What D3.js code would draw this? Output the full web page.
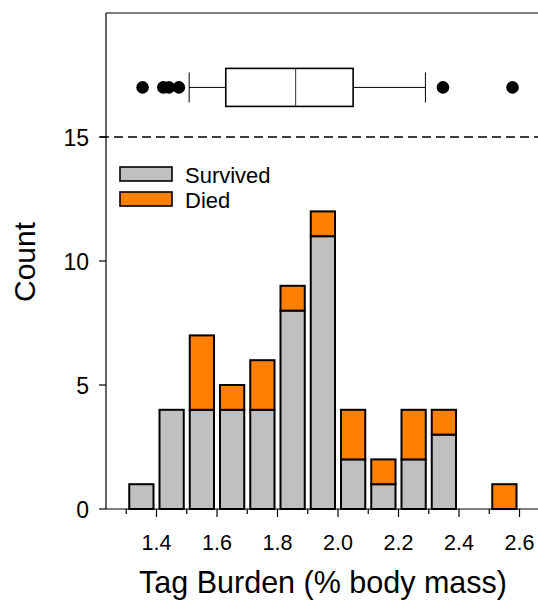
<!DOCTYPE html>
<html>
<head>
<meta charset="utf-8">
<script src="https://cdn.jsdelivr.net/npm/d3@7"></script>
<style>
  body { margin: 0; background: #fff; }
  svg { display: block; font-family: "Liberation Sans", Arial, sans-serif; }
</style>
</head>
<body>
<div id="chart"></div>
<script>
// ____ DATA ____ //
const binStarts = [1.3, 1.4, 1.5, 1.6, 1.7, 1.8, 1.9, 2.0, 2.1, 2.2, 2.3, 2.4, 2.5]
const survived  = [1, 4, 4, 4, 4, 8, 11, 2, 1, 2, 3, 0, 0]
const died      = [0, 0, 3, 1, 2, 1, 1, 2, 1, 2, 1, 0, 1]
const binWidth = 0.1

// box plot summary (% body mass)
const boxStats = { lo: 1.508, q1: 1.629, median: 1.86, q3: 2.05, hi: 2.289 }
const outliers = [1.354, 1.4225, 1.441, 1.474, 2.347, 2.577]
const boxLevel = 17
const cutLine = 15

const xTicks = [1.4, 1.6, 1.8, 2.0, 2.2, 2.4, 2.6]
const xMinorTicks = [1.3, 1.5, 1.7, 1.9, 2.1, 2.3, 2.5]
const yTicks = [0, 5, 10, 15]

const legendItems = [
    { label: "Survived", color: "#c0c0c0" },
    { label: "Died", color: "#ff8000" }
]

// ____ SETUP ____ //
const W = 538, H = 605
const svg = d3.select("#chart").append("svg")
    .attr("width", W)
    .attr("height", H)

const x = d3.scaleLinear()
    .domain([1.4 - 50.5 / 302.5, 1.4 + 381.5 / 302.5])
    .range([106, 538])

const y = d3.scaleLinear()
    .domain([0, 20])
    .range([509, 13])

// ____ BARS ____ //
const bars = binStarts.map((b, i) => ({ x0: b, x1: b + binWidth, s: survived[i], d: died[i] }))

const barG = svg.append("g").attr("class", "bars")
    .attr("stroke", "#000")
    .attr("stroke-width", 2)

barG.selectAll("rect.surv")
    .data(bars.filter(d => d.s > 0))
    .join("rect")
    .attr("class", "surv")
    .attr("x", d => x(d.x0) + 3)
    .attr("width", d => x(d.x1) - x(d.x0) - 6)
    .attr("y", d => y(d.s))
    .attr("height", d => y(0) - y(d.s))
    .attr("fill", legendItems[0].color)

barG.selectAll("rect.died")
    .data(bars.filter(d => d.d > 0))
    .join("rect")
    .attr("class", "died")
    .attr("x", d => x(d.x0) + 3)
    .attr("width", d => x(d.x1) - x(d.x0) - 6)
    .attr("y", d => y(d.s + d.d))
    .attr("height", d => y(d.s) - y(d.s + d.d))
    .attr("fill", legendItems[1].color)

// ____ DASHED CUT LINE ____ //
svg.append("line")
    .attr("x1", 100).attr("x2", W)
    .attr("y1", y(cutLine)).attr("y2", y(cutLine))
    .attr("stroke", "#000")
    .attr("stroke-width", 1.3)
    .attr("stroke-dasharray", "9,5")

// ____ BOX PLOT ____ //
const boxG = svg.append("g").attr("class", "box")
const yc = y(boxLevel)
const halfBox = 19, halfCap = 15

boxG.append("line")
    .attr("x1", x(boxStats.lo)).attr("x2", x(boxStats.q1))
    .attr("y1", yc).attr("y2", yc)
    .attr("stroke", "#000").attr("stroke-width", 1)
boxG.append("line")
    .attr("x1", x(boxStats.q3)).attr("x2", x(boxStats.hi))
    .attr("y1", yc).attr("y2", yc)
    .attr("stroke", "#000").attr("stroke-width", 1)
boxG.selectAll("line.cap")
    .data([boxStats.lo, boxStats.hi])
    .join("line")
    .attr("class", "cap")
    .attr("x1", d => x(d)).attr("x2", d => x(d))
    .attr("y1", yc - halfCap).attr("y2", yc + halfCap)
    .attr("stroke", "#000").attr("stroke-width", 1)
boxG.append("rect")
    .attr("x", x(boxStats.q1))
    .attr("width", x(boxStats.q3) - x(boxStats.q1))
    .attr("y", yc - halfBox)
    .attr("height", 2 * halfBox)
    .attr("fill", "#fff")
    .attr("stroke", "#000").attr("stroke-width", 1.6)
boxG.append("line")
    .attr("x1", x(boxStats.median)).attr("x2", x(boxStats.median))
    .attr("y1", yc - halfBox).attr("y2", yc + halfBox)
    .attr("stroke", "#333").attr("stroke-width", 1)
boxG.selectAll("circle")
    .data(outliers)
    .join("circle")
    .attr("cx", d => x(d))
    .attr("cy", yc)
    .attr("r", 6.3)
    .attr("fill", "#000")

// ____ AXES ____ //
const axisG = svg.append("g").attr("class", "axes")
    .attr("stroke", "#000").attr("stroke-width", 1.2)

axisG.append("line").attr("x1", 106).attr("x2", 106).attr("y1", y(20)).attr("y2", y(0))
axisG.append("line").attr("x1", 106).attr("x2", W).attr("y1", y(20)).attr("y2", y(20))
axisG.append("line").attr("x1", 106).attr("x2", W).attr("y1", y(0)).attr("y2", y(0))

axisG.selectAll("line.ytick")
    .data(yTicks)
    .join("line")
    .attr("class", "ytick")
    .attr("x1", 99).attr("x2", 106)
    .attr("y1", d => y(d)).attr("y2", d => y(d))

axisG.selectAll("line.xtick")
    .data(xTicks)
    .join("line")
    .attr("class", "xtick")
    .attr("x1", d => x(d)).attr("x2", d => x(d))
    .attr("y1", y(0)).attr("y2", y(0) + 8)

axisG.selectAll("line.xminor")
    .data(xMinorTicks)
    .join("line")
    .attr("class", "xminor")
    .attr("x1", d => x(d)).attr("x2", d => x(d))
    .attr("y1", y(0)).attr("y2", y(0) + 5)

svg.selectAll("text.ylab")
    .data(yTicks)
    .join("text")
    .attr("class", "ylab")
    .attr("x", 89)
    .attr("y", d => y(d) + 8.5)
    .attr("text-anchor", "end")
    .attr("font-size", 23)
    .text(d => d)

svg.selectAll("text.xlab")
    .data(xTicks)
    .join("text")
    .attr("class", "xlab")
    .attr("x", d => x(d))
    .attr("y", 549.5)
    .attr("text-anchor", "middle")
    .attr("font-size", 21.5)
    .text(d => d3.format(".1f")(d))

// axis titles
svg.append("text")
    .attr("x", 323)
    .attr("y", 593)
    .attr("text-anchor", "middle")
    .attr("font-size", 30.5)
    .text("Tag Burden (% body mass)")

svg.append("text")
    .attr("transform", `translate(35,${262}) rotate(-90)`)
    .attr("text-anchor", "middle")
    .attr("font-size", 30)
    .text("Count")

// ____ LEGEND ____ //
const legend = svg.append("g").attr("class", "legend")
legend.selectAll("rect")
    .data(legendItems)
    .join("rect")
    .attr("x", 120)
    .attr("y", (d, i) => 167 + i * 25)
    .attr("width", 52)
    .attr("height", 14)
    .attr("fill", d => d.color)
    .attr("stroke", "#000")
    .attr("stroke-width", 1.6)
legend.selectAll("text")
    .data(legendItems)
    .join("text")
    .attr("x", 185)
    .attr("y", (d, i) => 182.5 + i * 25)
    .attr("font-size", 22)
    .text(d => d.label)
</script>
</body>
</html>
